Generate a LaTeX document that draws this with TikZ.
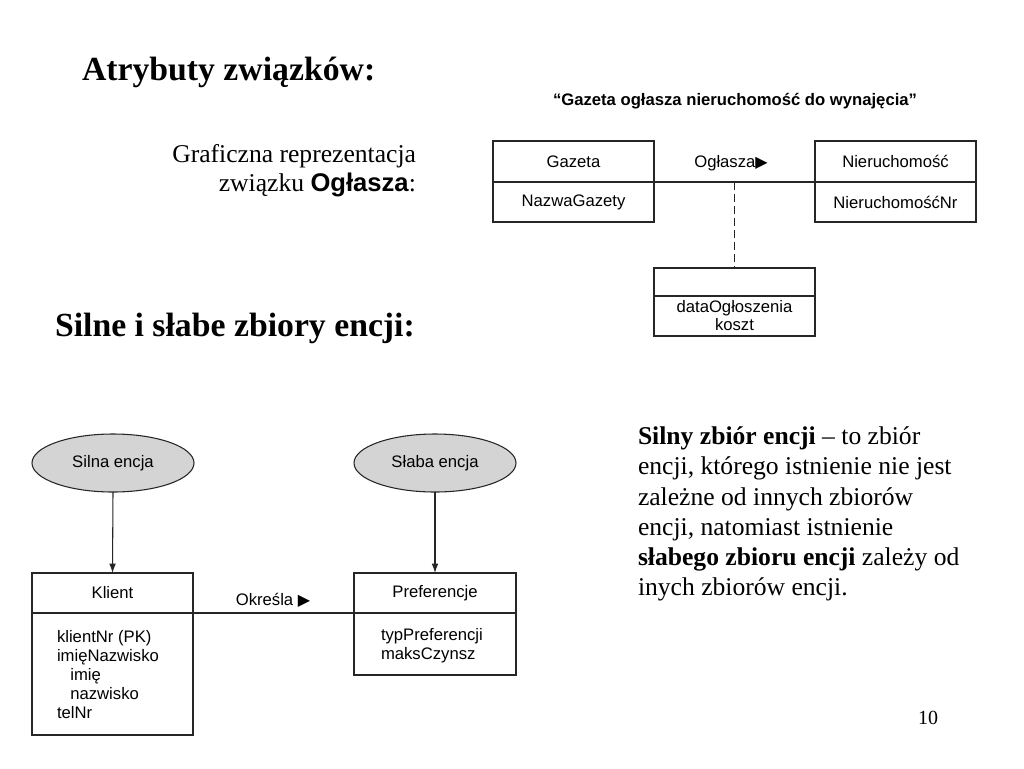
\documentclass[tikz,border=0pt]{standalone}
\usepackage{fontspec}
\setmainfont{Liberation Serif}
\setsansfont{Liberation Sans}
\newfontfamily\symfont{DejaVu Sans}
\usetikzlibrary{shapes.geometric,arrows.meta}
\begin{document}
\begin{tikzpicture}[x=0.75pt,y=-0.75pt,
  every node/.style={inner sep=0pt, outer sep=0pt},
  dfont/.style={font=\sffamily\fontsize{12.5}{14.25}\selectfont},
  box/.style={draw=black!85, line width=1.1pt, minimum width=120.75pt, dfont},
  ent/.style={ellipse, draw=black!85, line width=0.8pt, fill=black!17, minimum width=121.5pt, minimum height=43.5pt, dfont},
  link/.style={draw=black!85, line width=1pt},
  arr/.style={draw=black!85, line width=0.8pt, -{Latex[length=7pt,width=5pt]}},
  head/.style={font=\bfseries\fontsize{25.3}{28}\selectfont, anchor=base west},
  body/.style={font=\fontsize{19.2}{22.6}\selectfont}
  ]
\useasboundingbox (0,0) rectangle (1024,768);

% headings
\node[head] (h1) at (82,80) {Atrybuty związków:};
\node[head] (h2) at (55,336) {Silne i słabe zbiory encji:};
\node[body, align=right, anchor=north east, font=\fontsize{19.2}{21.75}\selectfont] (gr) at (416,144) {Graficzna reprezentacja\\związku \textsf{\textbf{Ogłasza}}:};

% top diagram
\node[dfont, font=\sffamily\bfseries\fontsize{12.5}{14}\selectfont] (title) at (735,101) {“Gazeta ogłasza nieruchomość do wynajęcia”};
\node[box, minimum height=30.75pt] (gazT) at (573.5,161.5) {Gazeta};
\node[box, minimum height=30pt] (gazB) at (573.5,202) {NazwaGazety};
\node[box, minimum height=30.75pt] (nieT) at (895.5,161.5) {Nieruchomość};
\node[box, minimum height=30pt] (nieB) at (895.5,202) {NieruchomośćNr};
\draw[link] (gazT.south east) -- coordinate[pos=0.5] (mid) (nieT.south west);
\node[dfont] (ogl) at (731,163) {Ogłasza{\symfont\fontsize{12}{12}\selectfont ▶}};
\node[box, minimum height=21pt] (attT) at (734.5,282) {};
\node[box, minimum height=30pt, align=center, font=\sffamily\fontsize{12.5}{13.5}\selectfont] (attB) at (734.5,316) {dataOgłoszenia\\koszt};
\draw[link, dash pattern=on 6pt off 3pt] (mid) -- (attT.north);

% bottom diagram
\node[ent] (silna) at (113,463) {Silna encja};
\node[ent] (slaba) at (435,463) {Słaba encja};
\node[box, minimum height=30pt] (klT) at (112.5,593) {Klient};
\node[box, minimum height=91.5pt] (klB) at (112.5,674) {};
\node[dfont, align=left, anchor=north west] (klA) at (57,630) {klientNr (PK)\\imięNazwisko\\\hspace*{10pt}imię\\\hspace*{10pt}nazwisko\\telNr};
\node[box, minimum width=121.5pt, minimum height=30pt] (prT) at (435,593) {Preferencje};
\node[box, minimum width=121.5pt, minimum height=46.5pt] (prB) at (435,644) {};
\node[dfont, align=left, anchor=north west] (prA) at (381,628) {typPreferencji\\maksCzynsz};
\draw[link] (klT.south east) -- (prT.south west);
\node[dfont] (okr) at (273,600) {Określa {\symfont\fontsize{12}{12}\selectfont ▶}};
\draw[arr] (silna.south) -- (klT.north);
\draw[arr] (slaba.south) -- (prT.north);

% right text
\node[body, align=left, anchor=north west] (txt) at (638,427) {\textbf{Silny zbiór encji} – to zbiór\\encji, którego istnienie nie jest\\zależne od innych zbiorów\\encji, natomiast istnienie\\\textbf{słabego zbioru encji} zależy od\\inych zbiorów encji.};

\node[font=\fontsize{15}{16}\selectfont] (pg) at (928,718) {10};
\end{tikzpicture}
\end{document}
